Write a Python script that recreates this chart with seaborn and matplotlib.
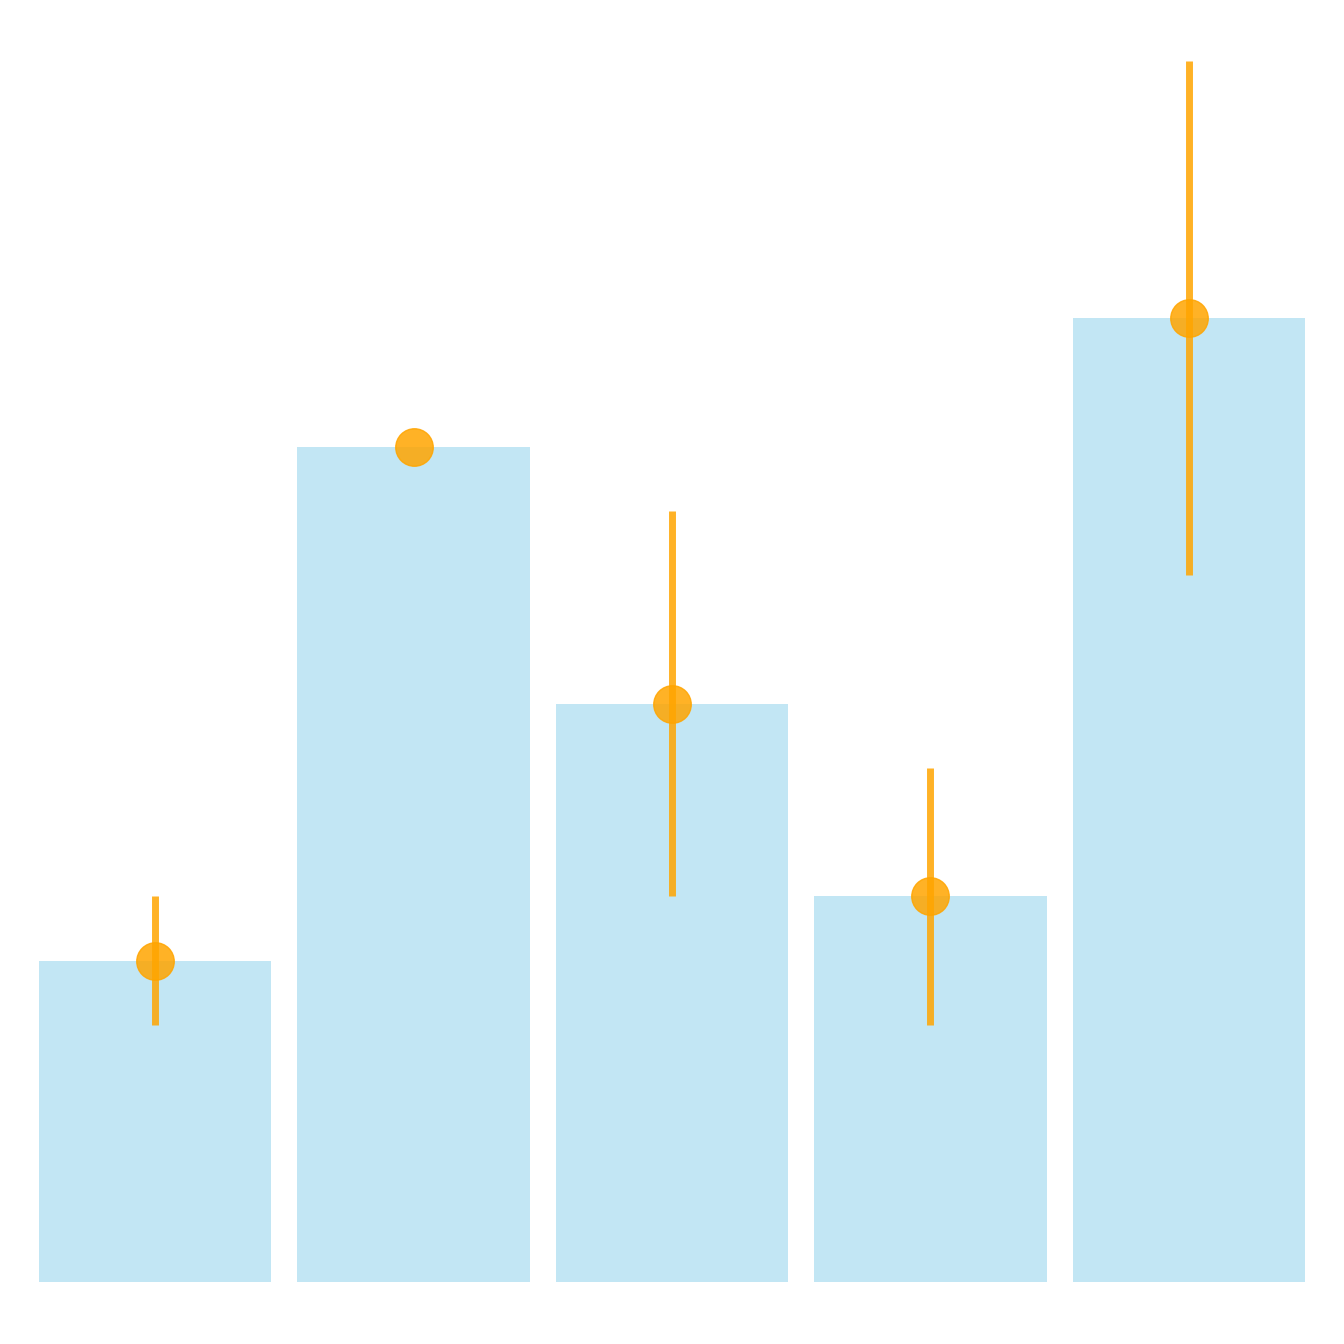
import matplotlib
matplotlib.use("Agg")
import matplotlib.pyplot as plt
import seaborn as sns
import pandas as pd

categories = ["A", "B", "C", "D", "E"]
values = [5, 13, 9, 6, 15]
errors = [1, 0, 3, 2, 4]

df = pd.DataFrame({"category": categories, "value": values})

fig = plt.figure(figsize=(13.44, 13.44), dpi=100)
ax = fig.add_axes([0, 0, 1, 1])
sns.barplot(data=df, x="category", y="value", color="skyblue", alpha=0.5,
            width=0.9, saturation=1, errorbar=None, ax=ax)
ax.errorbar(range(len(categories)), values, yerr=errors, fmt="o", color="orange",
            ecolor="orange", elinewidth=5, markersize=27, alpha=0.85, capsize=0)
ax.set_xlim(-0.6, 4.6)
ax.set_ylim(-0.965, 19.95)
ax.axis("off")
fig.savefig("out.png", dpi=100)
